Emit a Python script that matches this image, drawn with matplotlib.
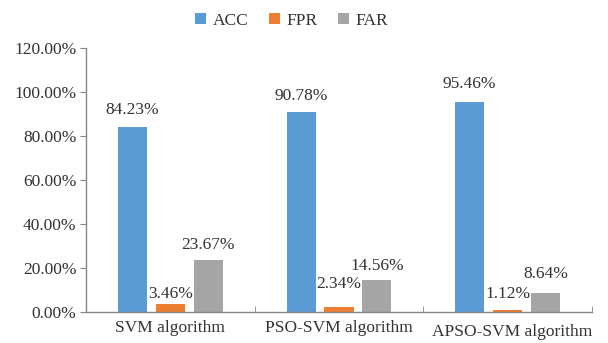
import matplotlib
matplotlib.use("Agg")
import matplotlib.pyplot as plt
import matplotlib.transforms as mtransforms
import numpy as np

categories = ["SVM algorithm", "PSO-SVM algorithm", "APSO-SVM algorithm"]
series_names = ["ACC", "FPR", "FAR"]
acc = [84.23, 90.78, 95.46]
fpr = [3.46, 2.34, 1.12]
far = [23.67, 14.56, 8.64]
y_ticks = [0, 20, 40, 60, 80, 100, 120]

colors = ["#5B9BD5", "#ED7D31", "#A5A5A5"]
# label offsets (points) above each bar, per series
label_offsets = [[5.9, 5.9, 7.3], [1.6, 10.9, 5.5], [5.2, 4.5, 8.0]]

plt.rcParams["font.family"] = ["Liberation Serif", "DejaVu Serif"]
text_color = "#333333"
fs = 12.5

fig = plt.figure(figsize=(6.08, 3.43), dpi=100)
ax = fig.add_axes([86 / 608, 1 - 312 / 343, (592 - 86) / 608, (312 - 48) / 343])

x = np.arange(len(categories))
step = 0.225
width = 0.172
handles = []
for i, (vals, name, c) in enumerate(zip([acc, fpr, far], series_names, colors)):
    pos = x + (i - 1) * step
    b = ax.bar(pos, vals, width=width, color=c, label=name, zorder=2)
    handles.append(b)
    for p, v, off in zip(pos, vals, label_offsets[i]):
        ax.annotate(f"{v:.2f}%", (p, v), xytext=(0, off), textcoords="offset points",
                    ha="center", va="bottom", fontsize=fs, color=text_color)

ax.set_xlim(-0.5, len(categories) - 0.5)
ax.set_ylim(0, 120)
ax.set_yticks(y_ticks)
ax.set_yticklabels([f"{t:.2f}%" for t in y_ticks], fontsize=fs, color=text_color)
ax.set_xticks(x)
ax.set_xticklabels(categories, fontsize=fs, color=text_color)
ax.tick_params(axis="x", which="major", length=0, pad=6)
ax.set_xticks(np.arange(-0.5, len(categories)), minor=True)
ax.tick_params(axis="x", which="minor", length=4, direction="in", color="#868686")
ax.tick_params(axis="y", length=4, direction="out", color="#868686", pad=3)

# last category label sits slightly lower and to the right in the reference
lbl = ax.get_xticklabels()[-1]
lbl.set_transform(lbl.get_transform() + mtransforms.ScaledTranslation(4 / 100, -4 / 100, fig.dpi_scale_trans))

for s in ["top", "right"]:
    ax.spines[s].set_visible(False)
for s in ["left", "bottom"]:
    ax.spines[s].set_color("#868686")
    ax.spines[s].set_linewidth(1.0)

fig.legend(handles=handles, labels=series_names, loc="center", bbox_to_anchor=(0.48, 0.94),
           ncol=3, frameon=False, fontsize=fs, handlelength=0.6, handleheight=0.6,
           handletextpad=0.4, columnspacing=1.2, labelcolor=text_color)

fig.savefig("out.png", dpi=100)
